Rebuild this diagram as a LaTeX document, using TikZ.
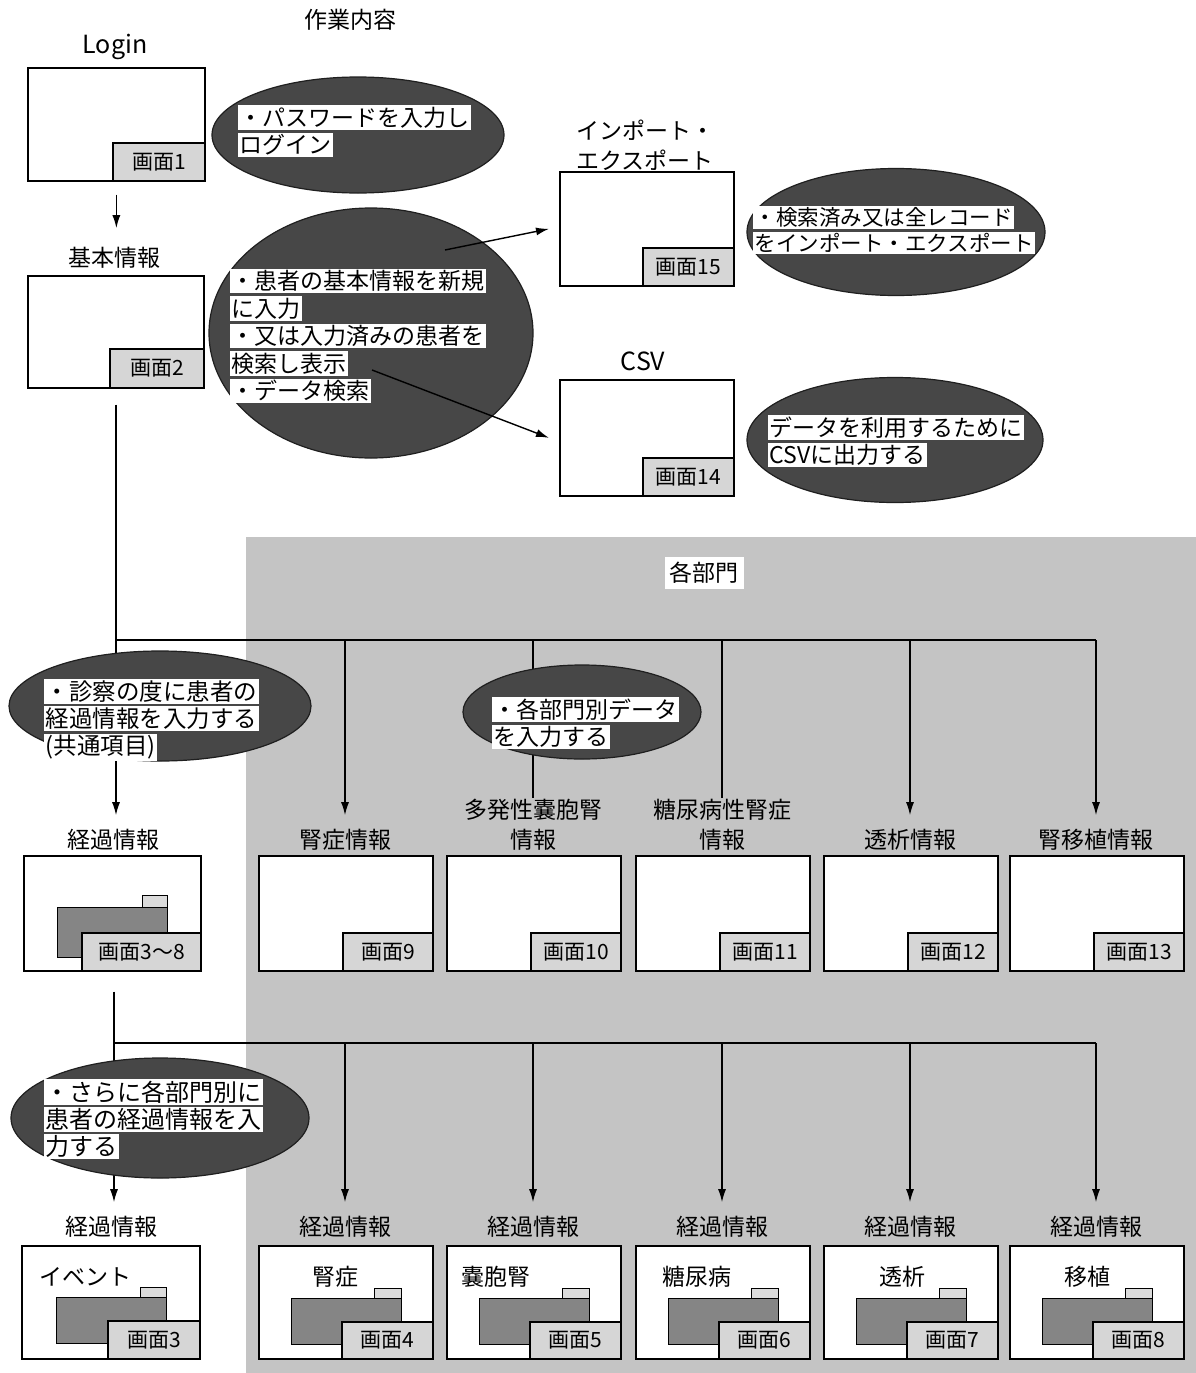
\documentclass[tikz,border=0pt]{standalone}
\usepackage{fontspec}
\setmainfont{Noto Sans CJK JP}
\usetikzlibrary{shapes.geometric,arrows.meta}
\newcommand{\wl}[1]{{\setlength{\fboxsep}{1.5pt}\colorbox{white}{#1}}}
\begin{document}
\begin{tikzpicture}[x=1pt,y=-1pt,
  scr/.style={draw, line width=1.7pt, fill=white, inner sep=0pt, anchor=north west},
  tagbox/.style={draw, line width=1.4pt, fill=black!16, inner sep=0pt, anchor=south east, font=\fontsize{21}{22}\selectfont},
  ell/.style={ellipse, fill=black!72, draw=black!88, line width=1.2pt, inner sep=0pt},
  etxt/.style={align=left, anchor=west, inner sep=0pt, font=\fontsize{23}{27.5}\selectfont},
  lbl/.style={align=center, inner sep=1pt, font=\fontsize{23}{30}\selectfont},
  conn/.style={line width=1.4pt},
  arr/.style={line width=1.4pt, -{Latex[length=13pt,width=8pt]}},
  gbox/.style={draw, line width=1.2pt, fill=black!48, inner sep=0pt, anchor=north west},
  tbox/.style={draw, line width=1.2pt, fill=black!14, inner sep=0pt, anchor=north west},
]
\useasboundingbox (0,0) rectangle (1196,1373);
\fill[white] (0,0) rectangle (1196,1373);
\fill[black!23] (246,537) rectangle (1196,1373);

% ---------- top part
\node[lbl] (title) at (350,20) {作業内容};
\node[lbl, font=\fontsize{25}{30}\selectfont] (lLogin) at (115,47) {Login};
\node[scr, minimum width=177pt, minimum height=113pt] (b1) at (27,67) {};
\node[tagbox, minimum width=92pt, minimum height=38pt] (t1) at (b1.south east) {画面1};
\node[lbl] (l2) at (114,258) {基本情報};
\node[scr, minimum width=176pt, minimum height=112pt] (b2) at (27,275) {};
\node[tagbox, minimum width=94pt, minimum height=39pt] (t2) at (b2.south east) {画面2};
\node[lbl] (l15) at (645,145) {インポート・\\エクスポート};
\node[scr, minimum width=174pt, minimum height=114pt] (b15) at (559,171) {};
\node[tagbox, minimum width=91pt, minimum height=38pt] (t15) at (b15.south east) {画面15};
\node[lbl, font=\fontsize{25}{30}\selectfont] (l14) at (643,361) {CSV};
\node[scr, minimum width=174pt, minimum height=116pt] (b14) at (559,379) {};
\node[tagbox, minimum width=91pt, minimum height=38pt] (t14) at (b14.south east) {画面14};

% ---------- departments area
\node[fill=white, inner sep=5pt, font=\fontsize{23}{26}\selectfont] (dept) at (704,573) {各部門};
\coordinate (j1) at (116,640);
\coordinate (j2) at (114,1043);

\node[lbl] (l38) at (113,840) {経過情報};
\node[scr, minimum width=177pt, minimum height=115pt] (b38) at (23,855) {};
\node[gbox, minimum width=110pt, minimum height=50pt] (g38) at (57,907) {};
\node[tbox, minimum width=25pt, minimum height=12pt] (tb38) at (142,895) {};
\node[tagbox, minimum width=119pt, minimum height=38pt] (t38) at (b38.south east) {画面3～8};

\node[lbl] (ls1) at (345,840) {腎症情報};
\node[lbl] (ls2) at (533,825) {多発性嚢胞腎\\情報};
\node[lbl] (ls3) at (722,825) {糖尿病性腎症\\情報};
\node[lbl] (ls4) at (910,840) {透析情報};
\node[lbl] (ls5) at (1096,840) {腎移植情報};
\foreach \i/\L/\n in {1/258/9, 2/446/10, 3/635/11, 4/823/12, 5/1009/13} {
  \node[scr, minimum width=174pt, minimum height=115pt] (d\i) at (\L,855) {};
  \node[tagbox, minimum width=90pt, minimum height=38pt] (dt\i) at (d\i.south east) {画面\n};
}

% ---------- bottom row
\node[lbl] (lb0) at (111,1227) {経過情報};
\node[scr, minimum width=178pt, minimum height=113pt] (k0) at (21,1245) {};
\node[lbl, anchor=west] (kt0) at (38,1277) {イベント};
\node[gbox, minimum width=110pt, minimum height=46pt] (kg0) at (56,1297) {};
\node[tbox, minimum width=26pt, minimum height=10pt] (kb0) at (140,1287) {};
\node[tagbox, minimum width=92pt, minimum height=38pt] (kk0) at (k0.south east) {画面3};
\foreach \i/\L/\n/\lab/\dx in {1/258/4/腎症/77, 2/446/5/嚢胞腎/50, 3/635/6/糖尿病/62, 4/823/7/透析/79, 5/1009/8/移植/78} {
  \node[lbl] (lb\i) at ({\L+87},1227) {経過情報};
  \node[scr, minimum width=174pt, minimum height=113pt] (k\i) at (\L,1245) {};
  \node[lbl] (kt\i) at ([xshift=\dx pt,yshift=-32pt]k\i.north west) {\lab};
  \node[gbox, minimum width=110pt, minimum height=46pt] (kg\i) at ([xshift=33pt,yshift=-53pt]k\i.north west) {};
  \node[tbox, minimum width=27pt, minimum height=10pt] (kb\i) at ([xshift=116pt,yshift=-43pt]k\i.north west) {};
  \node[tagbox, minimum width=91pt, minimum height=37pt] (kk\i) at (k\i.south east) {画面\n};
}

% ---------- connectors
\draw[arr, shorten >=18pt] (b1.south) ++(0,13) -- (b1.south |- l2.north);
\draw[conn] (b2.south -| j1) ++(0,16) -- (j1);
\draw[conn] (j1) -- (ls5.north |- j1);
\draw[arr, shorten >=13pt] (j1) -- (j1 |- l38.north);
\foreach \i in {1,4,5} {\draw[arr, shorten >=13pt] (ls\i.north |- j1) -- (ls\i.north);}
\foreach \i in {2,3} {\draw[conn] (ls\i.north |- j1) -- (ls\i.north);}
\draw[conn] (b38.south -| j2) ++(0,20) -- (j2);
\draw[conn] (j2) -- (lb5.north |- j2);
\draw[arr, shorten >=13pt] (j2) -- (j2 |- lb0.north);
\foreach \i in {1,...,5} {\draw[arr, shorten >=13pt] (lb\i.north |- j2) -- (lb\i.north);}

% ---------- ellipses
\node[ell, minimum width=292pt, minimum height=116pt] (e1) at (358,135) {};
\node[etxt] (e1t) at (238,131) {\wl{・パスワードを入力し}\\\wl{ログイン}};
\node[ell, minimum width=324pt, minimum height=250pt] (e2) at (371,333) {};
\node[etxt] (e2t) at (230,336) {\wl{・患者の基本情報を新規}\\\wl{に入力}\\\wl{・又は入力済みの患者を}\\\wl{検索し表示}\\\wl{・データ検索}};
\node[ell, minimum width=298pt, minimum height=127pt] (e15) at (896,232) {};
\node[etxt, font=\fontsize{21.5}{26.5}\selectfont] (e15t) at (753,230) {\wl{・検索済み又は全レコード}\\\wl{をインポート・エクスポート}};
\node[ell, minimum width=296pt, minimum height=125pt] (e14) at (895,440) {};
\node[etxt] (e14t) at (768,441) {\wl{データを利用するために}\\\wl{CSVに出力する}};
\node[ell, minimum width=302pt, minimum height=110pt] (e3) at (160,706) {};
\node[etxt, font=\fontsize{23.5}{27}\selectfont] (e3t) at (44,720) {\wl{・診察の度に患者の}\\\wl{経過情報を入力する}\\\wl{(共通項目)}};
\node[ell, minimum width=238pt, minimum height=94pt] (e4) at (582,712) {};
\node[etxt] (e4t) at (492,723) {\wl{・各部門別データ}\\\wl{を入力する}};
\node[ell, minimum width=298pt, minimum height=120pt] (e5) at (160,1118) {};
\node[etxt, font=\fontsize{24}{27}\selectfont] (e5t) at (44,1119) {\wl{・さらに各部門別に}\\\wl{患者の経過情報を入}\\\wl{力する}};

% arrows from ellipse 2
\draw[arr] ([shift={(74pt,83pt)}]e2.center) -- ([xshift=-10pt]b15.west);
\draw[arr] ([shift={(1pt,-37pt)}]e2.center) -- ([xshift=-10pt]b14.west);
\end{tikzpicture}
\end{document}
